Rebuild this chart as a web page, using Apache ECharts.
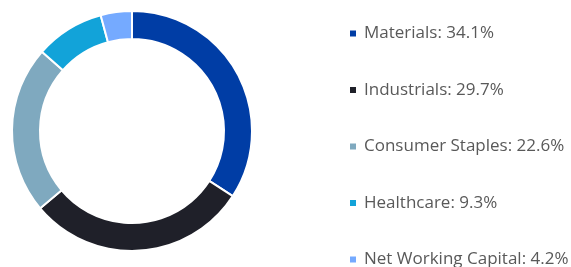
<!DOCTYPE html>
<html>
<head>
<meta charset="utf-8">
<script src="https://cdn.jsdelivr.net/npm/echarts@6/dist/echarts.min.js"></script>
<style>
html, body { margin: 0; padding: 0; background: #fff; }
#main { width: 571px; height: 267px; }
</style>
</head>
<body>
<div id="main"></div>
<script>
// sector weights (percent)
var categories = ['Materials', 'Industrials', 'Consumer Staples', 'Healthcare', 'Net Working Capital'];
var values = [34.1, 29.7, 22.6, 9.3, 4.2];
var colors = ['#003DA5', '#1F2029', '#7FA9BF', '#12A3D9', '#75AAFF'];

var pie_data = new Array();
for (var i = 0; i < categories.length; i++) {
    pie_data.push({value: values[i], name: categories[i]});
}

var chart = echarts.init(document.getElementById('main'));
var option = {
    color: colors,
    animation: false,
    legend: {
        orient: 'vertical',
        left: 343,
        top: 20,
        height: 320,
        icon: 'rect',
        itemWidth: 8,
        itemHeight: 8,
        itemGap: 39.5,
        textStyle: {
            fontFamily: 'Open Sans',
            fontSize: 17,
            color: '#595959',
            padding: [0, 0, 0, 2]
        },
        formatter: function (name) {
            var idx = categories.indexOf(name);
            return name + ': ' + values[idx].toFixed(1) + '%';
        },
        data: categories
    },
    series: [
        {
            type: 'pie',
            center: [132, 131],
            radius: [92, 120],
            startAngle: 90,
            clockwise: true,
            label: {show: false},
            labelLine: {show: false},
            emphasis: {disabled: true},
            itemStyle: {
                borderColor: '#fff',
                borderWidth: 2
            },
            data: pie_data
        }
    ]
};
chart.setOption(option);
</script>
</body>
</html>
